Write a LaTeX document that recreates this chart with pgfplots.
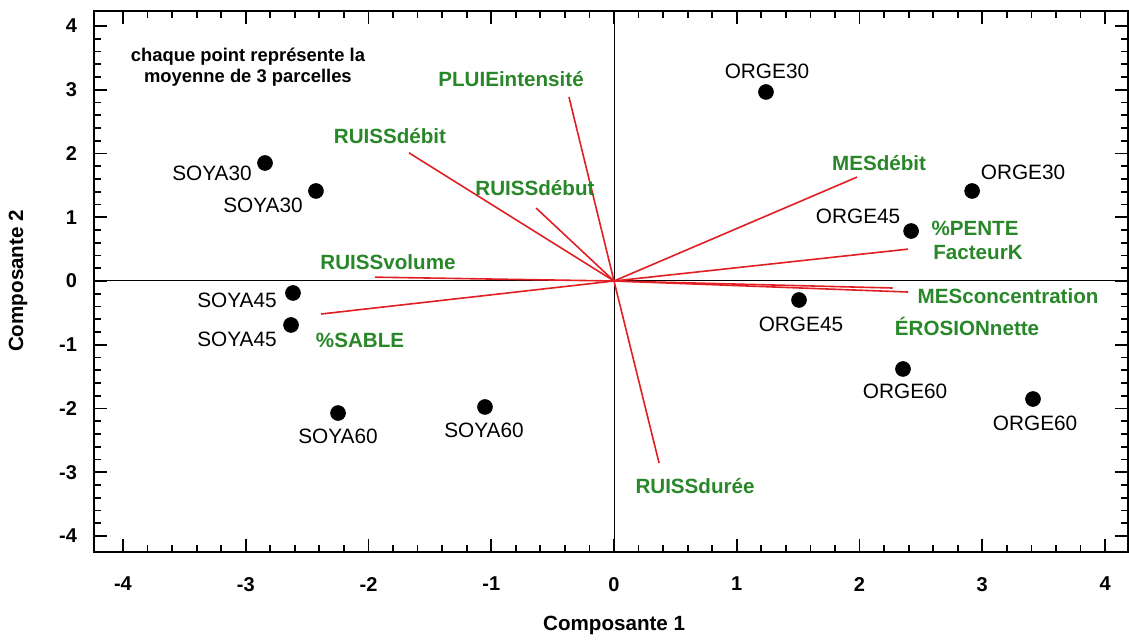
\documentclass[border=0pt]{standalone}
\usepackage{fontspec}
\setmainfont{Liberation Sans}
\usepackage{pgfplots}
\pgfplotsset{compat=1.18}
\definecolor{vgreen}{RGB}{40,135,40}
\definecolor{vred}{RGB}{225,30,35}
\begin{document}
\begin{tikzpicture}
\begin{axis}[
 at={(0,0)}, anchor=south west,
 scale only axis, width=517pt, height=270.5pt,
 xmin=-4.236, xmax=4.187, ymin=-4.251, ymax=4.235,
 xtick={-4,...,4}, ytick={-4,...,4},
 minor tick num=4,
 major tick length=6.5pt, minor tick length=3.5pt,
 tick style={black, line width=0.9pt},
 axis line style={line width=1pt},
 tick align=inside,
 ticklabel style={font=\bfseries\fontsize{10}{12}\selectfont},
 /pgf/number format/assume math mode=true,
 xticklabel style={yshift=-9pt},
 yticklabel style={xshift=-5pt},
 xlabel={Composante 1}, ylabel={Composante 2},
 label style={font=\bfseries\fontsize{10.3}{12}\selectfont},
 xlabel style={at={(axis description cs:0.503,-0.135)}, anchor=center},
 ylabel style={at={(axis description cs:-0.0735,0.501)}, anchor=center},
 clip=false,
]
% zero lines
\addplot[black, line width=0.5pt] coordinates {(-4.236,0) (4.187,0)};
\addplot[black, line width=0.5pt] coordinates {(0,-4.251) (0,4.235)};
% vectors
\addplot[vred, line width=0.8pt] coordinates {(0,0) (-0.367,2.886)};
\addplot[vred, line width=0.8pt] coordinates {(0,0) (-1.67,2.01)};
\addplot[vred, line width=0.8pt] coordinates {(0,0) (-0.635,1.145)};
\addplot[vred, line width=0.8pt] coordinates {(0,0) (-1.947,0.06)};
\addplot[vred, line width=0.8pt] coordinates {(0,0) (-2.387,-0.518)};
\addplot[vred, line width=0.8pt] coordinates {(0,0) (1.98,1.63)};
\addplot[vred, line width=0.8pt] coordinates {(0,0) (2.395,0.50)};
\addplot[vred, line width=0.8pt] coordinates {(0,0) (2.395,-0.173)};
\addplot[vred, line width=0.8pt] coordinates {(0,0) (2.27,-0.11)};
\addplot[vred, line width=0.8pt] coordinates {(0,0) (0.367,-2.855)};
% points
\addplot[only marks, mark=*, mark size=3.7pt, black] coordinates {
 (-2.843,1.851) (-2.428,1.412) (-2.615,-0.188) (-2.631,-0.690)
 (-2.248,-2.071) (-1.051,-1.976) (1.238,2.965) (2.917,1.412)
 (2.420,0.784) (1.507,-0.298) (2.354,-1.380) (3.413,-1.851)};
% point labels
\begin{scope}[every node/.style={font=\fontsize{10.4}{12}\selectfont, inner sep=0pt}]
\node at (axis cs:-3.275,1.694) {SOYA30};
\node at (axis cs:-2.859,1.192) {SOYA30};
\node at (axis cs:-3.071,-0.298) {SOYA45};
\node at (axis cs:-3.071,-0.910) {SOYA45};
\node at (axis cs:-2.248,-2.431) {SOYA60};
\node at (axis cs:-1.059,-2.337) {SOYA60};
\node at (axis cs:1.246,3.294) {ORGE30};
\node at (axis cs:3.332,1.710) {ORGE30};
\node at (axis cs:1.988,1.02) {ORGE45};
\node at (axis cs:1.523,-0.675) {ORGE45};
\node at (axis cs:2.371,-1.725) {ORGE60};
\node at (axis cs:3.430,-2.227) {ORGE60};
\end{scope}
% variable labels
\begin{scope}[every node/.style={font=\bfseries\fontsize{10.3}{12}\selectfont, text=vgreen, inner sep=0pt}]
\node at (axis cs:-0.839,3.169) {PLUIEintensité};
\node at (axis cs:-1.825,2.275) {RUISSdébit};
\node at (axis cs:-0.644,1.459) {RUISSdébut};
\node at (axis cs:-1.841,0.298) {RUISSvolume};
\node at (axis cs:-2.069,-0.925) {\%SABLE};
\node at (axis cs:2.159,1.851) {MESdébit};
\node at (axis cs:2.941,0.831) {\%PENTE};
\node at (axis cs:2.965,0.439) {FacteurK};
\node at (axis cs:3.210,-0.235) {MESconcentration};
\node at (axis cs:2.876,-0.706) {ÉROSIONnette};
\node at (axis cs:0.660,-3.216) {RUISSdurée};
\end{scope}
\node[font=\bfseries\fontsize{9.2}{10.5}\selectfont, align=center, inner sep=0pt] at (axis cs:-2.982,3.357) {chaque point représente la\\moyenne de 3 parcelles};
\end{axis}
\pgfresetboundingbox
\path[use as bounding box] (-47pt,-43.5pt) rectangle (517.5pt,276pt);
\end{tikzpicture}
\end{document}
